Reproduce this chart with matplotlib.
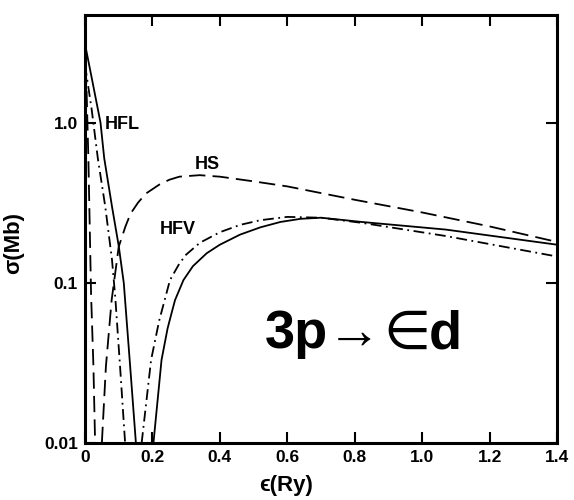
import matplotlib
matplotlib.use("Agg")
import matplotlib.pyplot as plt

plt.rcParams['font.family'] = ['Liberation Sans', 'DejaVu Sans']
plt.rcParams['font.weight'] = 'bold'

# HFL (solid) – two branches
hfl_x1 = [0.0, 0.02, 0.046, 0.057, 0.08, 0.10, 0.115, 0.134, 0.151]
hfl_y1 = [3.1, 1.9, 1.0, 0.60, 0.30, 0.17, 0.10, 0.030, 0.010]
hfl_x2 = [0.203, 0.227, 0.245, 0.257, 0.267, 0.292, 0.32, 0.361, 0.40, 0.46, 0.52, 0.58, 0.64, 0.70, 0.82, 1.07, 1.4]
hfl_y2 = [0.010, 0.033, 0.052, 0.065, 0.078, 0.104, 0.127, 0.153, 0.173, 0.200, 0.222, 0.240, 0.251, 0.255, 0.240, 0.215, 0.173]

# HS (dashed)
hs_x1 = [0.0, 0.005, 0.010, 0.018, 0.025, 0.030]
hs_y1 = [3.1, 1.5, 0.60, 0.085, 0.030, 0.010]
hs_x2 = [0.05, 0.062, 0.079, 0.10, 0.12, 0.135, 0.157, 0.18, 0.22, 0.25, 0.28, 0.34, 0.40, 0.50, 0.60, 0.80, 1.0, 1.2, 1.4]
hs_y2 = [0.010, 0.030, 0.078, 0.168, 0.225, 0.27, 0.316, 0.36, 0.41, 0.44, 0.46, 0.47, 0.46, 0.43, 0.40, 0.33, 0.275, 0.225, 0.18]

# HFV (dash-dot)
hfv_x1 = [0.0, 0.02, 0.038, 0.06, 0.08, 0.09, 0.104, 0.119]
hfv_y1 = [2.3, 1.2, 0.60, 0.30, 0.14, 0.08, 0.030, 0.010]
hfv_x2 = [0.168, 0.196, 0.22, 0.239, 0.252, 0.28, 0.30, 0.341, 0.40, 0.46, 0.52, 0.60, 0.70, 0.82, 1.07, 1.4]
hfv_y2 = [0.010, 0.033, 0.058, 0.082, 0.104, 0.132, 0.150, 0.178, 0.207, 0.230, 0.246, 0.258, 0.255, 0.237, 0.196, 0.146]

xticks = [0, 0.2, 0.4, 0.6, 0.8, 1.0, 1.2, 1.4]
xticklabels = ['0', '0.2', '0.4', '0.6', '0.8', '1.0', '1.2', '1.4']
yticks = [0.01, 0.1, 1.0]
yticklabels = ['0.01', '0.1', '1.0']

fig = plt.figure(figsize=(5.74, 5.0), dpi=100)
ax = fig.add_axes([85/574, 57/500, 472/574, 428/500])

lw = 1.3
ax.plot(hfl_x1, hfl_y1, color='black', lw=lw, ls='-')
ax.plot(hfl_x2, hfl_y2, color='black', lw=lw, ls='-')
ax.plot(hs_x1, hs_y1, color='black', lw=lw, ls=(0, (9, 4)))
ax.plot(hs_x2, hs_y2, color='black', lw=lw, ls=(0, (9, 4)))
ax.plot(hfv_x1, hfv_y1, color='black', lw=lw, ls=(0, (6, 2.5, 1, 2.5)))
ax.plot(hfv_x2, hfv_y2, color='black', lw=lw, ls=(0, (6, 2.5, 1, 2.5)))

ax.set_yscale('log')
ax.set_xlim(0, 1.4)
ax.set_ylim(0.01, 4.7)
ax.set_xticks(xticks)
ax.set_xticklabels(xticklabels)
ax.set_yticks(yticks)
ax.set_yticklabels(yticklabels)
ax.minorticks_off()
ax.tick_params(axis='both', direction='in', length=8, width=1.5, top=True, right=True,
               labelsize=12.5, pad=5)
for lab in ax.get_xticklabels() + ax.get_yticklabels():
    lab.set_fontweight('bold')
for s in ax.spines.values():
    s.set_linewidth(2.2)

ax.set_xlabel('ϵ(Ry)', fontsize=16, fontweight='bold')
ax.xaxis.set_label_coords((286-85)/472, -0.075)
ax.set_ylabel('σ(Mb)', fontsize=16, fontweight='bold')
ax.yaxis.set_label_coords(-0.13, 0.467)

ax.text(0.06, 0.97, 'HFL', fontsize=13, fontweight='bold', ha='left', va='center')
ax.text(0.326, 0.546, 'HS', fontsize=13, fontweight='bold', ha='left', va='center')
ax.text(0.223, 0.214, 'HFV', fontsize=13, fontweight='bold', ha='left', va='center')

# big label "3p → ∈d" built from pieces sharing one baseline
yb = 0.039
fs = 39
t1 = ax.text(0.534, yb, '3p→', fontsize=fs, fontweight='bold', ha='left', va='baseline')
fig.canvas.draw()
r = fig.canvas.get_renderer()
inv = ax.transData.inverted()
bb = t1.get_window_extent(r)
xd = inv.transform((bb.x1 + 1, 0))[0]
t2 = ax.text(xd, yb, '∈', fontsize=fs, fontweight='normal', ha='left', va='baseline',
             family=['DejaVu Sans'])
fig.canvas.draw()
bb = t2.get_window_extent(r)
xd = inv.transform((bb.x1 - 2, 0))[0]
ax.text(xd, yb, 'd', fontsize=fs, fontweight='bold', ha='left', va='baseline')

fig.savefig('out.png', dpi=100)
